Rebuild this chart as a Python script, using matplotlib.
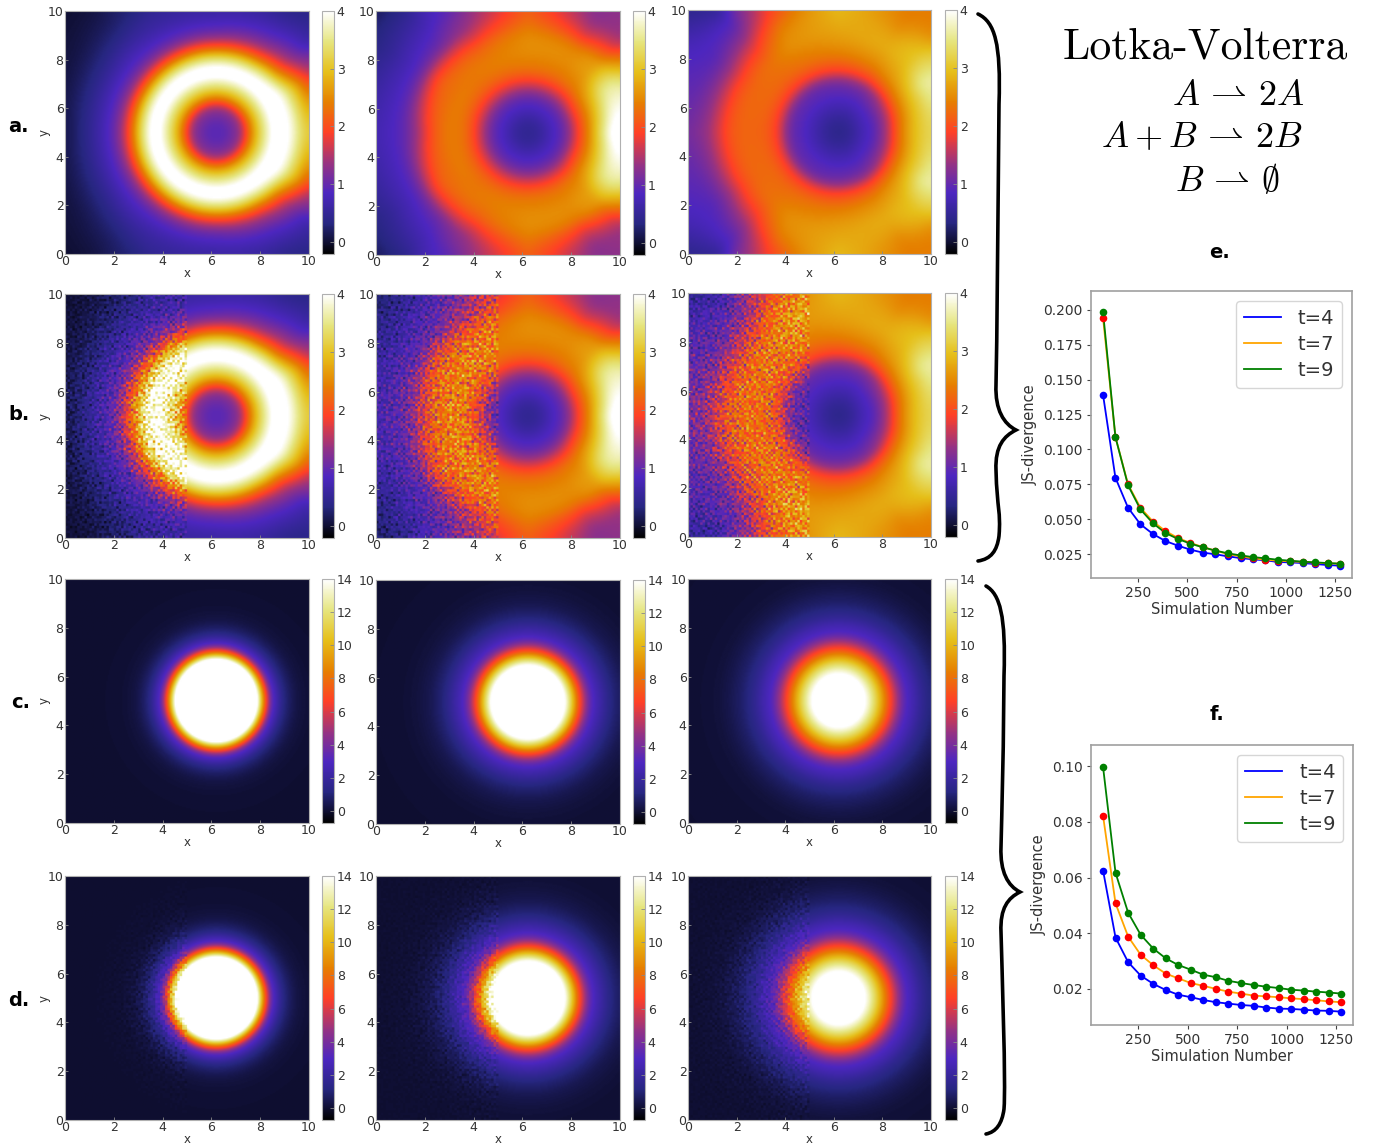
import numpy as np
import matplotlib
matplotlib.use("Agg")
import matplotlib.pyplot as plt
from matplotlib.path import Path
from matplotlib.patches import PathPatch

W, H = 1379, 1148

# values, rings around (6.2, 5), mirrored in y
centre_x, centre_y = 6.2, 5.0
angles = [0, 30, 45, 60, 90, 120, 135, 150, 180]
radii = [0, .5, 1, 1.5, 2, 2.5, 3, 3.5, 4, 4.5, 5, 5.5, 6, 6.5, 7, 7.5, 8]

rings_t1 = [
    [.9, 1.0, 1.35, 2.65, 3.6, 4.3, 4.0, 3.3, 2.9, 2.8, 2.8, 2.8, 2.8, 2.8, 2.8, 2.8, 2.8],
    [.9, 1.0, 1.35, 2.65, 3.6, 4.3, 4.0, 3.2, 2.4, 1.7, 1.5, 1.5, 1.5, 1.5, 1.5, 1.5, 1.5],
    [.9, 1.0, 1.35, 2.65, 3.6, 4.3, 3.7, 2.5, 1.65, 1.15, .8, .6, .5, .5, .5, .5, .5],
    [.9, 1.0, 1.35, 2.65, 3.6, 4.3, 3.55, 2.25, 1.4, .95, .7, .5, .35, .3, .3, .3, .3],
    [.9, 1.0, 1.35, 2.65, 3.6, 4.3, 3.5, 2.1, 1.15, .8, .6, .5, .5, .5, .5, .5, .5],
    [.9, 1.0, 1.35, 2.65, 3.6, 4.3, 3.5, 2.1, 1.15, .8, .6, .5, .35, .3, .3, .3, .3],
    [.9, 1.0, 1.35, 2.65, 3.6, 4.3, 3.5, 2.1, 1.15, .8, .6, .4, .25, .15, .08, .03, 0],
    [.9, 1.0, 1.35, 2.65, 3.6, 4.3, 3.5, 2.1, 1.15, .8, .55, .35, .2, .1, .05, .02, 0],
    [.9, 1.0, 1.35, 2.65, 3.6, 4.3, 3.5, 2.1, 1.2, .8, .55, .33, .15, .05, 0, 0, 0],
]
rings_t2 = [
    [.45, .55, .8, 1.05, 1.8, 2.5, 3.4, 4.2, 4.4, 4.4, 4.4, 4.4, 4.4, 4.4, 4.4, 4.4, 4.4],
    [.45, .55, .8, 1.05, 1.8, 2.4, 2.95, 3.5, 3.6, 3.3, 3.0, 3.0, 3.0, 3.0, 3.0, 3.0, 3.0],
    [.45, .55, .8, 1.05, 1.7, 2.3, 2.55, 2.7, 2.65, 2.2, 1.7, 1.4, 1.35, 1.35, 1.35, 1.35, 1.35],
    [.45, .55, .8, 1.05, 1.7, 2.25, 2.45, 2.55, 2.4, 1.85, 1.45, 1.25, 1.25, 1.2, 1.2, 1.2, 1.2],
    [.45, .55, .8, 1.05, 1.7, 2.25, 2.45, 2.55, 2.5, 2.3, 2.15, 2.0, 2.0, 2.0, 2.0, 2.0, 2.0],
    [.45, .55, .8, 1.05, 1.7, 2.2, 2.4, 2.35, 2.15, 1.7, 1.35, 1.2, 1.0, 1.0, 1.0, 1.0, 1.0],
    [.45, .55, .8, 1.05, 1.7, 2.2, 2.35, 2.35, 2.15, 1.7, 1.1, .9, .75, .6, .45, .3, .12],
    [.45, .55, .8, 1.05, 1.7, 2.2, 2.4, 2.3, 2.2, 1.75, 1.05, .8, .65, .5, .4, .3, .2],
    [.45, .55, .8, 1.05, 1.7, 2.25, 2.4, 2.3, 1.95, 1.4, 1.0, .85, .75, .7, .7, .7, .7],
]
rings_t3 = [
    [.4, .5, .75, .95, 1.5, 2.3, 2.85, 3.15, 3.3, 3.3, 3.3, 3.3, 3.3, 3.3, 3.3, 3.3, 3.3],
    [.4, .5, .75, .95, 1.4, 2.15, 2.7, 3.15, 3.6, 3.6, 3.5, 3.5, 3.5, 3.5, 3.5, 3.5, 3.5],
    [.4, .5, .72, .95, 1.25, 2.05, 2.55, 2.8, 2.95, 3.0, 2.85, 2.55, 2.4, 2.4, 2.4, 2.4, 2.4],
    [.4, .5, .7, .9, 1.15, 1.95, 2.4, 2.65, 2.8, 2.7, 2.5, 2.4, 2.4, 2.4, 2.4, 2.4, 2.4],
    [.4, .5, .7, .9, 1.1, 1.9, 2.3, 2.55, 2.7, 2.8, 2.9, 2.9, 2.9, 2.9, 2.9, 2.9, 2.9],
    [.4, .5, .7, .9, 1.05, 1.85, 2.25, 2.4, 2.55, 2.5, 2.3, 2.0, 1.8, 1.8, 1.8, 1.8, 1.8],
    [.4, .5, .7, .9, 1.05, 1.85, 2.2, 2.3, 2.3, 2.05, 1.7, 1.3, 1.0, .8, .55, .4, .3],
    [.4, .5, .7, .9, 1.05, 1.85, 2.2, 2.25, 2.2, 1.95, 1.5, 1.1, .9, .85, .8, .7, .6],
    [.4, .5, .7, .9, 1.05, 1.85, 2.15, 2.2, 2.2, 2.05, 1.65, 1.3, 1.15, 1.1, 1.1, 1.1, 1.1],
]

# second system is round, one profile per time is enough
profile_r1 = [0, 1.0, 1.5, 1.7, 1.85, 2.0, 2.15, 2.3, 2.5, 2.75, 3, 3.25, 3.5, 4, 5, 9]
profile_v1 = [20, 20, 17, 14, 10.5, 7.5, 5, 3.2, 2.3, 1.2, .7, .35, .18, .04, 0, 0]
profile_r2 = [0, 1, 1.3, 1.5, 1.7, 1.9, 2.1, 2.3, 2.5, 2.75, 3, 3.25, 3.5, 4, 4.5, 5, 6, 9]
profile_v2 = [20, 19, 16, 14.2, 12, 9.5, 7, 5.2, 3.6, 2.7, 2.1, 1.5, 1.0, .45, .2, .08, .02, 0]
profile_r3 = [0, .5, .9, 1.1, 1.3, 1.5, 1.7, 1.9, 2.15, 2.4, 2.6, 2.8, 3.1, 3.4, 3.7, 4, 4.5, 5, 6, 9]
profile_v3 = [17, 16.5, 15, 14, 12.8, 11.5, 10, 8.5, 6.6, 5, 3.8, 3.0, 2.4, 1.7, 1.2, .8, .4, .15, .04, 0]

# grain of the simulated half, typed by eye
grain = [
    [.4, -1.1, .9, -.3, 1.6, -.8, .1, 1.2, -1.5, .6, -.2, 1.0, -.9],
    [-1.3, .7, -.1, 1.1, -.6, .3, -1.7, .8, .2, -.9, 1.4, -.4, .5],
    [.9, .1, -1.4, .5, .2, 1.8, -.5, -1.0, 1.1, -.1, -.7, .6, 1.3],
    [-.5, 1.5, .3, -1.0, .8, -.2, .7, .4, -1.2, 1.7, .1, -1.6, -.3],
    [1.2, -.7, .6, -.4, -1.6, 1.0, -.9, 1.3, .5, -.6, .9, .2, -1.1],
    [-.2, .5, -1.2, 1.7, .4, -.5, 1.1, -1.3, -.1, .8, -1.5, 1.0, .3],
    [.7, -1.5, 1.0, .1, -.9, .6, -.3, .2, 1.6, -1.1, .4, -.8, 1.1],
    [-1.0, .2, .8, -.7, 1.3, -1.4, .9, -.6, .3, .5, -.2, 1.5, -1.2],
    [1.4, -.4, -.8, .6, -.2, .7, 1.5, -1.1, -.7, 1.2, -1.3, .1, .8],
    [-.6, 1.1, .2, -1.5, .9, .3, -1.2, 1.6, -.4, -.8, .7, -.1, -.5],
    [.3, -.9, 1.3, .7, -1.1, -.1, .5, -.7, 1.0, .1, 1.1, -1.4, .6],
]
grain_shift = [0, 5, 2, 9, 11, 3, 7, 1, 12, 6, 4, 10, 8, 2, 11, 5, 9, 0, 7, 3, 12, 1, 6]

# JS-divergence curves
sim_numbers = [72, 135, 199, 262, 326, 389, 452, 516, 579, 643, 706, 770, 833, 896, 960, 1023, 1087, 1150, 1213, 1277]
e_t4 = [.1393, .0797, .0582, .0463, .0393, .0343, .0310, .0281, .0260, .0248, .0233, .0221, .0212, .0205, .0193, .0190, .0185, .0178, .0171, .0166]
e_t7 = [.1945, .1089, .0750, .0582, .0482, .0415, .0365, .0329, .0300, .0274, .0250, .0233, .0219, .0209, .0202, .0197, .0193, .0188, .0183, .0181]
e_t9 = [.1986, .1089, .0743, .0570, .0470, .0401, .0358, .0324, .0298, .0274, .0255, .0240, .0228, .0219, .0209, .0202, .0195, .0190, .0185, .0181]
f_t4 = [.0625, .0384, .0295, .0247, .0217, .0195, .0178, .0169, .0159, .0151, .0146, .0141, .0138, .0132, .0128, .0127, .0124, .0121, .0120, .0117]
f_t7 = [.0822, .0507, .0387, .0322, .0284, .0254, .0237, .0220, .0210, .0199, .0189, .0182, .0175, .0172, .0169, .0165, .0162, .0158, .0154, .0151]
f_t9 = [.0998, .0617, .0473, .0394, .0344, .0309, .0285, .0268, .0250, .0241, .0228, .0220, .0213, .0207, .0202, .0196, .0193, .0189, .0186, .0182]

ticks_2d = [0, 2, 4, 6, 8, 10]
cbar_ticks_top = [0, 1, 2, 3, 4]
cbar_ticks_bottom = [0, 2, 4, 6, 8, 10, 12, 14]

plt.rcParams["font.family"] = "DejaVu Sans"
plt.rcParams["mathtext.fontset"] = "cm"
plt.rcParams["text.color"] = "#333333"
plt.rcParams["xtick.labelcolor"] = "#333333"
plt.rcParams["ytick.labelcolor"] = "#333333"
plt.rcParams["axes.labelcolor"] = "#333333"

fig = plt.figure(figsize=(W / 100, H / 100), dpi=100)


def add_ax(left, top, right, bottom):
    return fig.add_axes([left / W, 1 - bottom / H, (right - left) / W, (bottom - top) / H])


N = 200
cells = (np.arange(N) + .5) * 10 / N
grid_x, grid_y = np.meshgrid(cells, cells)
grid_r = np.hypot(grid_x - centre_x, grid_y - centre_y)
grid_a = np.degrees(np.arctan2(np.abs(grid_y - centre_y), grid_x - centre_x))


def smooth(field, width):
    # moving average along both axes, the reference is quite soft
    kernel = np.ones(width) / width
    pad = width // 2
    out = np.pad(field, pad, mode="edge")
    out = np.apply_along_axis(np.convolve, 0, out, kernel, mode="same")
    out = np.apply_along_axis(np.convolve, 1, out, kernel, mode="same")
    return out[pad:-pad, pad:-pad]


def ring_field(table):
    table = np.array(table)
    per_angle = np.array([np.interp(grid_r, radii, row) for row in table])
    ii = np.clip(np.searchsorted(angles, grid_a, side="right") - 1, 0, len(angles) - 2)
    aa = np.array(angles, dtype=float)
    frac = (grid_a - aa[ii]) / (aa[ii + 1] - aa[ii])
    rows, cols = np.indices(grid_r.shape)
    field = per_angle[ii, rows, cols] * (1 - frac) + per_angle[ii + 1, rows, cols] * frac
    return smooth(field, 11)


def round_field(rr, vv):
    return smooth(np.interp(grid_r, rr, vv), 5)


def add_grain(field, shift):
    # left half shows the 100x100 simulated cells
    coarse = field[::2, ::2]
    rows = [np.roll(grain[i % len(grain)], grain_shift[(i + shift * 4) % len(grain_shift)])
            for i in range(100)]
    tile = np.tile(np.array(rows), (1, 8))[:, :100]
    # mixing with the transpose hides the repeat of the typed block
    tile = (tile + tile.T) / 1.41
    noisy = coarse + .27 * np.sqrt(np.clip(coarse, 0, None)) * tile
    noisy = np.repeat(np.repeat(noisy, 2, axis=0), 2, axis=1)
    out = field.copy()
    out[:, :N // 2] = noisy[:, :N // 2]
    return out


def heat_panel(field, box, cbox, vmin, vmax, cticks, ylabel=False):
    ax = add_ax(*box)
    im = ax.imshow(field, origin="lower", extent=(0, 10, 0, 10), cmap="CMRmap",
                   vmin=vmin, vmax=vmax, interpolation="bilinear", aspect="auto")
    ax.set_xticks(ticks_2d)
    ax.set_yticks(ticks_2d)
    ax.tick_params(direction="in", length=2, width=.6, labelsize=9, pad=1, color="#888888")
    ax.set_xlabel("x", fontsize=8.5, labelpad=-1)
    if ylabel:
        ax.set_ylabel("y", fontsize=8.5, labelpad=-2)
    for sp in ax.spines.values():
        sp.set_color("#b0b0b0")
    cax = add_ax(*cbox)
    cb = fig.colorbar(im, cax=cax, ticks=cticks)
    cb.ax.tick_params(direction="in", length=3, width=.6, labelsize=9, pad=2, color="#888888")
    cb.outline.set_edgecolor("#b0b0b0")
    return ax


top_fields = [ring_field(t) for t in (rings_t1, rings_t2, rings_t3)]
bottom_fields = [round_field(profile_r1, profile_v1), round_field(profile_r2, profile_v2),
                 round_field(profile_r3, profile_v3)]

col_x = [(65, 309, 322, 334), (376, 620, 633, 645), (688, 931, 945, 957)]
row_a = [(11, 254), (11, 255), (10, 254)]
row_b = [(294, 538), (294, 538), (293, 537)]
row_c = [(579, 823), (580, 824), (579, 823)]
row_d = [(876, 1120), (876, 1120), (876, 1120)]

for k in range(3):
    x0, x1, c0, c1 = col_x[k]
    t, b = row_a[k]
    heat_panel(top_fields[k], (x0, t, x1, b), (c0, t, c1, b), -.21, 4, cbar_ticks_top, k == 0)
    t, b = row_b[k]
    heat_panel(add_grain(top_fields[k], k), (x0, t, x1, b), (c0, t, c1, b), -.21, 4, cbar_ticks_top, k == 0)
    t, b = row_c[k]
    heat_panel(bottom_fields[k], (x0, t, x1, b), (c0, t, c1, b), -.73, 14, cbar_ticks_bottom, k == 0)
    t, b = row_d[k]
    heat_panel(add_grain(bottom_fields[k], k + 3), (x0, t, x1, b), (c0, t, c1, b), -.73, 14, cbar_ticks_bottom, k == 0)


def curve_panel(box, curves, yticks, ylim, fmt, ypad):
    ax = add_ax(*box)
    colors = ["blue", "orange", "green"]
    dots = ["blue", "red", "green"]
    for vals, lab, c, d in zip(curves, ["t=4", "t=7", "t=9"], colors, dots):
        ax.plot(sim_numbers, vals, color=c, lw=1.3, label=lab)
        ax.scatter(sim_numbers, vals, color=d, s=30, zorder=3, linewidths=0)
    ax.set_xlim(11, 1336)
    ax.set_ylim(*ylim)
    ax.set_xticks([250, 500, 750, 1000, 1250])
    ax.set_yticks(yticks)
    ax.set_yticklabels([fmt % v for v in yticks])
    ax.tick_params(labelsize=10, length=3, color="#444444", pad=3)
    ax.set_xlabel("Simulation Number", fontsize=10.5, labelpad=1)
    ax.set_ylabel("JS-divergence", fontsize=10.5, labelpad=ypad)
    for sp in ax.spines.values():
        sp.set_color("#a0a0a0")
        sp.set_linewidth(1.2)
    ax.legend(loc="upper right", fontsize=14, handlelength=1.95, handletextpad=.85,
              labelspacing=.38, borderaxespad=.5)
    return ax


curve_panel((1091, 291, 1352, 578), [e_t4, e_t7, e_t9],
            [.025, .05, .075, .1, .125, .15, .175, .2], (.0078, .2136), "%.3f", 4)
curve_panel((1091, 745, 1353, 1025), [f_t4, f_t7, f_t9],
            [.02, .04, .06, .08, .1], (.0069, .1077), "%.2f", 4)

# overlay in picture pixels for braces and captions
over = fig.add_axes([0, 0, 1, 1], zorder=5)
over.set_xlim(0, W)
over.set_ylim(H, 0)
over.axis("off")


def brace(x_start, x_mid, x_tip, y_top, y_tip, y_bottom):
    verts = [(x_start, y_top),
             (x_mid - 4, y_top + 8), (x_mid + 2, y_top + 30), (x_mid, y_top + 90),
             (x_mid - 1, y_top + 200), (x_mid - 2, y_tip - 90), (x_mid - 3, y_tip - 45),
             (x_mid - 4, y_tip - 20), (x_tip - 12, y_tip - 6), (x_tip, y_tip),
             (x_tip - 12, y_tip + 6), (x_mid - 4, y_tip + 16), (x_mid - 3, y_tip + 40),
             (x_mid - 2, y_tip + 80), (x_mid + 2, y_bottom - 50), (x_mid, y_bottom - 25),
             (x_mid - 2, y_bottom - 10), (x_mid - 8, y_bottom - 2), (x_start, y_bottom)]
    codes = [Path.MOVETO] + [Path.CURVE4] * 18
    over.add_patch(PathPatch(Path(verts, codes), fc="none", ec="black", lw=2.6, capstyle="round"))


brace(978, 999, 1016, 14, 430, 561)
brace(986, 1004, 1020, 586, 892, 1134)

for lab, x, y in [("a.", 18, 127), ("b.", 19, 415), ("c.", 21, 702), ("d.", 19, 1000),
                  ("e.", 1219, 252), ("f.", 1217, 714)]:
    over.text(x, y, lab, fontsize=14, fontweight="bold", color="black", ha="center", va="center")

over.text(1205, 47, "Lotka-Volterra", family="cmr10", fontsize=31.5, color="black", ha="center", va="center")
over.text(1172, 95, r"$A\,\rightharpoonup\,2A$", fontsize=26, color="black", ha="left", va="center")
over.text(1101, 137, r"$A+B\,\rightharpoonup\,2B$", fontsize=26, color="black", ha="left", va="center")
over.text(1175, 181, r"$B\,\rightharpoonup\,\emptyset$", fontsize=26, color="black", ha="left", va="center")

fig.savefig("out.png", dpi=100)
